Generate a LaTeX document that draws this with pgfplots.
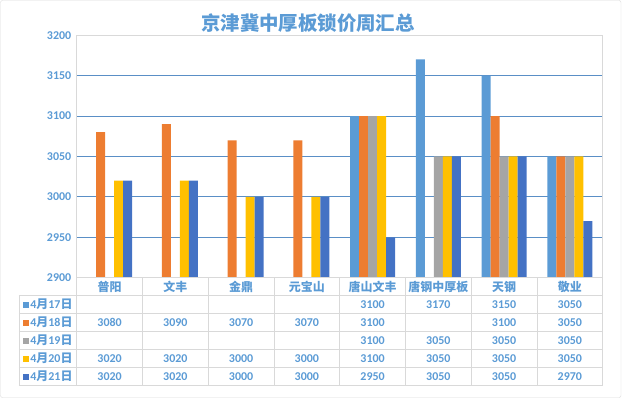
\documentclass[border=0pt]{standalone}
\usepackage{pgfplots}
\pgfplotsset{compat=1.18}
\usepackage{fontspec}
\setmainfont{Carlito}
\newfontfamily\cjk{Noto Sans CJK SC}
\definecolor{sA}{HTML}{5B9BD5}
\definecolor{sB}{HTML}{ED7D31}
\definecolor{sC}{HTML}{A5A5A5}
\definecolor{sD}{HTML}{FFC000}
\definecolor{sE}{HTML}{4472C4}
\definecolor{tc}{HTML}{5B9BD5}
\definecolor{gridc}{HTML}{5A8FC6}
\definecolor{linec}{HTML}{D9D9D9}
\newcommand\cw{65.75}
\tikzset{tcell/.style={font=\bfseries\fontsize{12}{12}\selectfont, text=tc, anchor=center, inner sep=0pt}}
\newcommand\cell[3]{\node[tcell] at ({(#1+0.5)*\cw},#2) {#3};}
\begin{document}
\begin{tikzpicture}
\begin{scope}[x=1bp,y=1bp]
\useasboundingbox (-76.7,-120.3) rectangle (545.3,277.7);
\draw[linec, rounded corners=2bp] (-76.2,-119.8) rectangle (544.3,277.2);
\end{scope}
\begin{axis}[
  at={(0,0)}, anchor=south west,
  scale only axis, width=526bp, height=242.5bp,
  xmin=-0.5, xmax=7.5, ymin=2900, ymax=3200,
  ybar=0pt, bar width=9bp,
  axis line style={draw=none},
  xtick={0,...,7},
  xticklabels={{\cjk 普阳},{\cjk 文丰},{\cjk 金鼎},{\cjk 元宝山},{\cjk 唐山文丰},{\cjk 唐钢中厚板},{\cjk 天钢},{\cjk 敬业}},
  xticklabel style={font=\bfseries\fontsize{12}{12}\selectfont, text=tc, anchor=center, yshift=-9.5bp},
  ytick={2900,2950,...,3200},
  yticklabel style={font=\bfseries\fontsize{12}{12}\selectfont, text=tc, xshift=-2bp},
  /pgf/number format/assume math mode=true,
  /pgf/number format/set thousands separator={},
  major tick length=0pt,
  ymajorgrids, grid style={gridc, line width=0.8pt},
  clip=false,
]
\addplot[fill=sA, draw=none] coordinates {(4,3100) (5,3170) (6,3150) (7,3050)};
\addplot[fill=sB, draw=none] coordinates {(0,3080) (1,3090) (2,3070) (3,3070) (4,3100) (6,3100) (7,3050)};
\addplot[fill=sC, draw=none] coordinates {(4,3100) (5,3050) (6,3050) (7,3050)};
\addplot[fill=sD, draw=none] coordinates {(0,3020) (1,3020) (2,3000) (3,3000) (4,3100) (5,3050) (6,3050) (7,3050)};
\addplot[fill=sE, draw=none] coordinates {(0,3020) (1,3020) (2,3000) (3,3000) (4,2950) (5,3050) (6,3050) (7,2970)};
\end{axis}
\begin{scope}[x=1bp,y=1bp]
% plot box
\draw[linec, line width=0.8pt] (0,242.5) -- (526,242.5);
\draw[linec, line width=0.8pt] (0,0) -- (0,242.5);
\draw[linec, line width=0.8pt] (526,-108) -- (526,242.5);
% table
\foreach \yy in {0,-18,-36,-54,-72,-90,-108} {\draw[linec, line width=0.8pt] (0,\yy) -- (526,\yy);}
\foreach \yy in {-18,-36,-54,-72,-90,-108} {\draw[linec, line width=0.8pt] (-57.7,\yy) -- (0,\yy);}
\draw[linec, line width=0.8pt] (-57.7,-18) -- (-57.7,-108);
\foreach \k in {0,...,7} {\draw[linec, line width=0.8pt] ({\k*\cw},0) -- ({\k*\cw},-108);}
% title
\node[font=\cjk\bfseries\fontsize{19.5}{19.5}\selectfont, text=tc, anchor=center] at (231.3,254.7) {京津冀中厚板锁价周汇总};
% legend keys
\foreach \yy/\cc/\dd in {-27/sA/17,-45/sB/18,-63/sC/19,-81/sD/20,-99/sE/21} {
  \fill[\cc] (-53.5,\yy-3) rectangle (-47.5,\yy+3);
  \node[tcell, anchor=west] at (-46.5,\yy) {4{\cjk 月}\dd{\cjk 日}};
}
% values
\cell{4}{-27}{3100}\cell{5}{-27}{3170}\cell{6}{-27}{3150}\cell{7}{-27}{3050}
\cell{0}{-45}{3080}\cell{1}{-45}{3090}\cell{2}{-45}{3070}\cell{3}{-45}{3070}\cell{4}{-45}{3100}\cell{6}{-45}{3100}\cell{7}{-45}{3050}
\cell{4}{-63}{3100}\cell{5}{-63}{3050}\cell{6}{-63}{3050}\cell{7}{-63}{3050}
\cell{0}{-81}{3020}\cell{1}{-81}{3020}\cell{2}{-81}{3000}\cell{3}{-81}{3000}\cell{4}{-81}{3100}\cell{5}{-81}{3050}\cell{6}{-81}{3050}\cell{7}{-81}{3050}
\cell{0}{-99}{3020}\cell{1}{-99}{3020}\cell{2}{-99}{3000}\cell{3}{-99}{3000}\cell{4}{-99}{2950}\cell{5}{-99}{3050}\cell{6}{-99}{3050}\cell{7}{-99}{2970}
\end{scope}
\end{tikzpicture}
\end{document}
